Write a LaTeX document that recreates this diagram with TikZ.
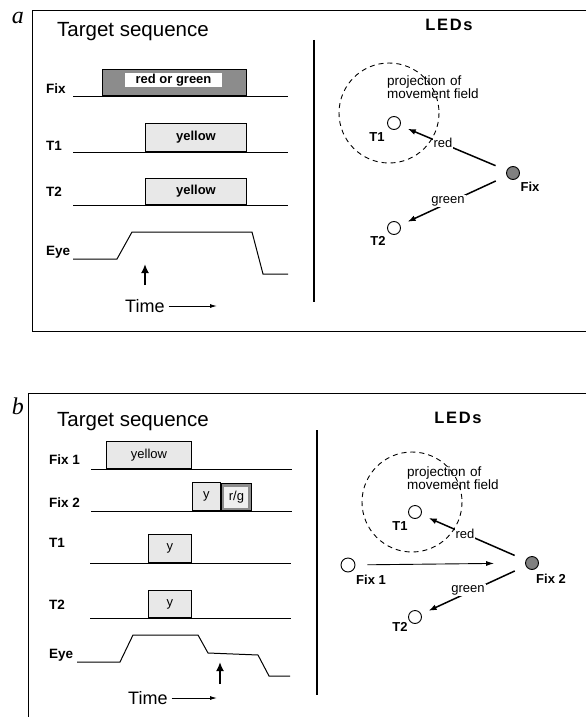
\documentclass[tikz,border=0pt]{standalone}
\usepackage{fontspec}
\setmainfont{Liberation Sans}
\newfontfamily\panelfont{Liberation Serif}
\usetikzlibrary{arrows.meta}
\begin{document}
\begin{tikzpicture}[x=1pt,y=-1pt,
  framel/.style={line width=0.9pt},
  sig/.style={line width=1pt},
  rowlbl/.style={font=\fontsize{13.5}{15}\selectfont\bfseries, inner sep=0pt, anchor=west},
  ttl/.style={font=\fontsize{20.5}{24}\selectfont, inner sep=0pt, anchor=west},
  plabel/.style={font=\fontsize{24}{26}\selectfont\panelfont\itshape, inner sep=0pt},
  boxtxt/.style={font=\fontsize{13}{15}\selectfont\bfseries},
  darkbox/.style={draw, line width=0.9pt, fill=black!45, inner sep=0pt, anchor=south west},
  lightbox/.style={draw, line width=0.9pt, fill=black!9, inner sep=0pt, anchor=south west, font=\fontsize{13}{15}\selectfont\bfseries},
  ledstyle/.style={circle, draw, line width=0.9pt, minimum size=13pt, inner sep=0pt},
  ledfix/.style={ledstyle, fill=black!50},
  ledlbl/.style={font=\fontsize{13}{15}\selectfont\bfseries, inner sep=0pt},
  ledarrow/.style={line width=1.5pt, -{Latex[length=8pt,width=6pt]}, shorten <=12pt, shorten >=8pt},
  arrlbl/.style={font=\fontsize{13}{15}\selectfont, fill=white, inner sep=1pt},
  projtxt/.style={font=\fontsize{13.5}{15}\selectfont, inner sep=0pt, anchor=base west},
  ledsttl/.style={font=\fontsize{16.5}{18}\selectfont\bfseries\addfontfeature{LetterSpace=10}, inner sep=0pt},
  timetxt/.style={font=\fontsize{18}{20}\selectfont, inner sep=0pt, anchor=west},
  timearrow/.style={line width=0.9pt, -{Latex[length=7pt,width=4pt]}, shorten <=4pt},
  eyearrow/.style={line width=2.4pt, -{Latex[length=9pt,width=8pt]}},
  divider/.style={line width=2.8pt}
]
\useasboundingbox (0,0) rectangle (586,717);

%================ PANEL A =================
\node[plabel] (la) at (18,18) {a};
\draw[framel] (586,10) -- (32,10) -- (32,331) -- (586,331);
\node[ttl] (ta) at (57,32) {Target sequence};

% row labels
\node[rowlbl] (afix) at (46,89) {Fix};
\node[rowlbl] (at1) at (46,146) {T1};
\node[rowlbl] (at2) at (46,192) {T2};
\node[rowlbl] (aeye) at (46,252) {Eye};

% signal baselines
\draw[sig] (73,96) -- (288,96);
\draw[sig] (73,152) -- (288,152);
\draw[sig] (73,205) -- (288,205);

% Fix box
\node[darkbox, minimum width=144pt, minimum height=26pt] (afixbox) at (102,96) {};
\node[fill=white, inner sep=0pt, minimum width=97pt, minimum height=14pt, boxtxt] (afixtxt) at (173.5,80) {red or green};
% T1, T2 boxes
\node[lightbox, minimum width=101pt, minimum height=28pt] (at1box) at (145,152) {yellow};
\node[lightbox, minimum width=101pt, minimum height=26pt] (at2box) at (145,205) {yellow};

% Eye trace
\draw[sig] (73,259) -- (117,259) -- (132,232) -- (252,232) -- (263,274) -- (288,274);
\coordinate (aup0) at (145,285);
\coordinate (aup1) at (145,264);
\draw[eyearrow] (aup0) -- (aup1);

% Time
\node[timetxt] (atime) at (125,306) {Time};
\coordinate (atimeend) at (217,306);
\draw[timearrow] (atime.east) -- (atimeend);

% LEDs side
\node[ledsttl] (aleds) at (449,25) {LEDs};
\coordinate (adiv0) at (314,40);
\coordinate (adiv1) at (314,302);
\draw[divider] (adiv0) -- (adiv1);

\draw[line width=0.9pt, dash pattern=on 5pt off 4pt] (389,113) circle[radius=50];
\node[projtxt] (aproj1) at (387,85) {projection\,\,of};
\node[projtxt] (aproj2) at (387,98.5) {movement field};

\node[ledstyle] (aT1) at (394,123) {};
\node[ledlbl] (aT1l) at (377,137) {T1};
\node[ledstyle] (aT2) at (394,228) {};
\node[ledlbl] (aT2l) at (378,241) {T2};
\node[ledfix] (aF) at (513,173) {};
\node[ledlbl] (aFl) at (530,187) {Fix};

\draw[ledarrow] (aF) -- (aT1);
\draw[ledarrow] (aF) -- (aT2);
\node[arrlbl] (ared) at (443,143) {red};
\node[arrlbl] (agreen) at (448,201) {green};

%================ PANEL B =================
\node[plabel] (lb) at (18,406) {b};
\draw[framel] (586,393) -- (28,393) -- (28,717);
\node[ttl] (tb) at (57,422) {Target sequence};

\node[rowlbl] (bfix1) at (49,460) {Fix 1};
\node[rowlbl] (bfix2) at (49,503) {Fix 2};
\node[rowlbl] (bt1) at (49,543) {T1};
\node[rowlbl] (bt2) at (49,605) {T2};
\node[rowlbl] (beye) at (49,655) {Eye};

\draw[sig] (91,469) -- (292,469);
\draw[sig] (91,511) -- (292,511);
\draw[sig] (90,563) -- (291,563);
\draw[sig] (90,618) -- (291,618);

\node[lightbox, minimum width=85pt, minimum height=27pt, font=\fontsize{13}{15}\selectfont] (bfix1box) at (106,469) {yellow};
\node[lightbox, minimum width=28pt, minimum height=28pt, font=\fontsize{13}{15}\selectfont] (bybox) at (192,511) {y};
\node[darkbox, minimum width=30pt, minimum height=27pt] (brgbox) at (221,511) {};
\node[fill=black!6, inner sep=0pt, minimum width=24pt, minimum height=21pt, font=\fontsize{13}{15}\selectfont] (brgtxt) at (brgbox.center) {r/g};
\node[lightbox, minimum width=43pt, minimum height=28pt, font=\fontsize{13}{15}\selectfont] (bt1box) at (148,563) {y};
\node[lightbox, minimum width=43pt, minimum height=27pt, font=\fontsize{13}{15}\selectfont] (bt2box) at (148,618) {y};

\draw[sig] (77,662) -- (120,662) -- (133,635) -- (198,635) -- (208,653) -- (258,655) -- (269,676) -- (290,676);
\coordinate (bup0) at (220,684);
\coordinate (bup1) at (220,662);
\draw[eyearrow] (bup0) -- (bup1);

\node[timetxt] (btime) at (128,698) {Time};
\coordinate (btimeend) at (217,698);
\draw[timearrow] (btime.east) -- (btimeend);

\node[ledsttl] (bleds) at (458,418) {LEDs};
\coordinate (bdiv0) at (317,430);
\coordinate (bdiv1) at (317,695);
\draw[divider] (bdiv0) -- (bdiv1);

\draw[line width=0.9pt, dash pattern=on 5pt off 4pt] (412,502) circle[radius=50];
\node[projtxt] (bproj1) at (407,476) {projection\,\,of};
\node[projtxt] (bproj2) at (407,489.5) {movement field};

\node[ledstyle] (bT1) at (415,512) {};
\node[ledlbl] (bT1l) at (400,526) {T1};
\node[ledstyle, minimum size=14pt] (bF1) at (348,565) {};
\node[ledlbl] (bF1l) at (371,580) {Fix 1};
\node[ledfix] (bF2) at (532,563) {};
\node[ledlbl] (bF2l) at (551,579) {Fix 2};
\node[ledstyle] (bT2) at (415,617) {};
\node[ledlbl] (bT2l) at (400,627) {T2};

\draw[line width=0.9pt, -{Latex[length=8pt,width=5pt]}, shorten <=12pt, shorten >=31pt] (bF1) -- (bF2);
\draw[ledarrow] (bF2) -- (bT1);
\draw[ledarrow] (bF2) -- (bT2);
\node[arrlbl] (bred) at (465,534) {red};
\node[arrlbl] (bgreen) at (468,590) {green};
\end{tikzpicture}
\end{document}
